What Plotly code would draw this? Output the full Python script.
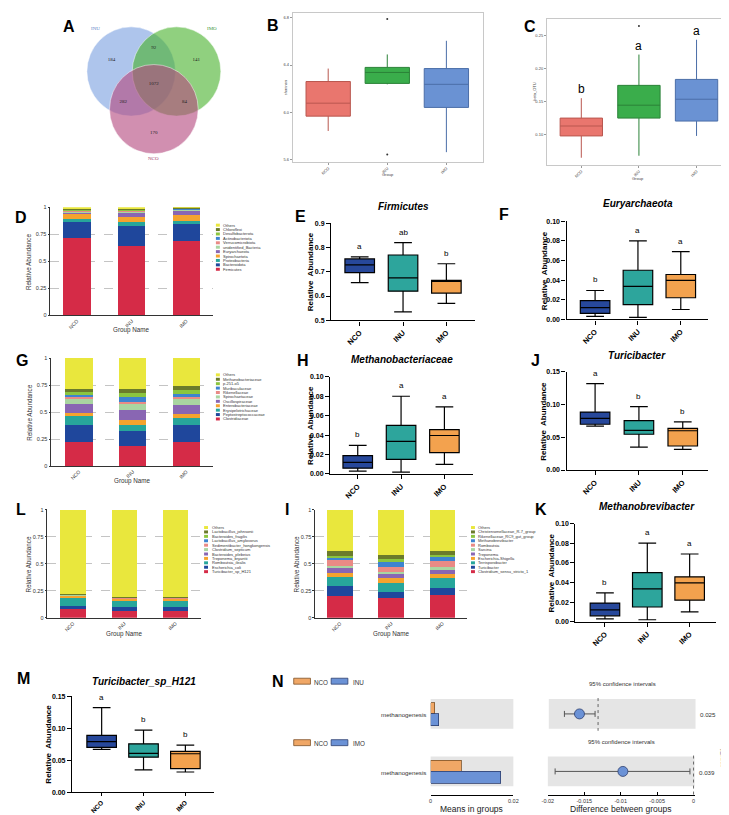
import plotly.graph_objects as go

W, H = 729, 815
FONT = 'Arial, "Liberation Sans", sans-serif'

groups = ['NCO', 'INU', 'IMO']

# ---------------- A: Venn ----------------
venn_sets = ['INU', 'IMO', 'NCO']
venn_regions = ['INU', 'INU&IMO', 'IMO', 'INU&NCO', 'INU&IMO&NCO', 'IMO&NCO', 'NCO']
venn_counts = [184, 92, 141, 282, 1072, 84, 170]

# ---------------- B: shannon ----------------
shannon_lo = [5.84, 6.236, 5.66]
shannon_q1 = [5.966, 6.244, 6.04]
shannon_med = [6.076, 6.337, 6.236]
shannon_q3 = [6.26, 6.38, 6.37]
shannon_hi = [6.37, 6.49, 6.606]
shannon_out_group = [1, 1]
shannon_out_val = [6.79, 5.64]
shannon_ticks = [5.6, 6.0, 6.4, 6.8]

# ---------------- C: beta ----------------
beta_lo = [0.0655, 0.0685, 0.0985]
beta_q1 = [0.0985, 0.1255, 0.121]
beta_med = [0.1135, 0.145, 0.154]
beta_q3 = [0.1255, 0.175, 0.184]
beta_hi = [0.1556, 0.2216, 0.244]
beta_out_group = [1]
beta_out_val = [0.265]
beta_letters = ['b', 'a', 'a']
beta_ticks = [0.10, 0.15, 0.20, 0.25]

# ---------------- D: phylum ----------------
phylum_names = ['Firmicutes', 'Bacteroidota', 'Proteobacteria', 'Spirochaetota', 'Euryarchaeota',
                'unidentified_Bacteria', 'Verrucomicrobiota', 'Actinobacteriota', 'Desulfobacterota',
                'Chloroflexi', 'Others']
phylum_NCO = [0.720, 0.140, 0.030, 0.050, 0.012, 0.010, 0.005, 0.005, 0.005, 0.003, 0.020]
phylum_INU = [0.645, 0.180, 0.040, 0.045, 0.035, 0.015, 0.005, 0.005, 0.010, 0.005, 0.015]
phylum_IMO = [0.685, 0.160, 0.030, 0.050, 0.040, 0.010, 0.005, 0.005, 0.005, 0.003, 0.007]

# ---------------- G: family ----------------
family_names = ['Clostridiaceae', 'Peptostreptococcaceae', 'Erysipelotrichaceae', 'Enterobacteriaceae',
                'Oscillospiraceae', 'Spirochaetaceae', 'Rikenellaceae', 'Muribaculaceae', 'p-251-o5',
                'Methanobacteriaceae', 'Others']
family_NCO = [0.222, 0.159, 0.079, 0.034, 0.076, 0.053, 0.017, 0.017, 0.028, 0.025, 0.290]
family_INU = [0.186, 0.137, 0.058, 0.049, 0.085, 0.056, 0.022, 0.047, 0.033, 0.037, 0.290]
family_IMO = [0.222, 0.159, 0.061, 0.040, 0.080, 0.055, 0.025, 0.022, 0.040, 0.036, 0.260]

# ---------------- L: species ----------------
species_names = ['Turicibacter_sp_H121', 'Escherichia_coli', 'Romboutsia_ilealis', 'Treponema_bryantii',
                 'Bacteroides_plebeius', 'Clostridium_septicum', 'Sedimentibacter_hongkongensis',
                 'Lactobacillus_amylovorus', 'Bacteroides_fragilis', 'Lactobacillus_johnsonii', 'Others']
species_NCO = [0.083, 0.022, 0.075, 0.030, 0.003, 0.002, 0.001, 0.001, 0.001, 0.001, 0.781]
species_INU = [0.058, 0.042, 0.055, 0.025, 0.003, 0.002, 0.002, 0.002, 0.002, 0.004, 0.805]
species_IMO = [0.065, 0.035, 0.055, 0.025, 0.003, 0.002, 0.002, 0.002, 0.002, 0.004, 0.805]

# ---------------- I: genus ----------------
genus_names = ['Clostridium_sensu_stricto_1', 'Turicibacter', 'Terrisporobacter', 'Escherichia-Shigella',
               'Treponema', 'Sarcina', 'Romboutsia', 'Methanobrevibacter', 'Rikenellaceae_RC9_gut_group',
               'Christensenellaceae_R-7_group', 'Others']
genus_NCO = [0.205, 0.085, 0.085, 0.040, 0.050, 0.015, 0.060, 0.012, 0.020, 0.045, 0.383]
genus_INU = [0.183, 0.055, 0.082, 0.046, 0.049, 0.010, 0.048, 0.039, 0.031, 0.036, 0.421]
genus_IMO = [0.207, 0.070, 0.089, 0.039, 0.046, 0.015, 0.055, 0.037, 0.021, 0.040, 0.381]

# ---------------- box panels (lo, q1, median, q3, hi) ----------------
firmicutes = [[0.655, 0.535, 0.570], [0.696, 0.620, 0.612], [0.728, 0.675, 0.660],
              [0.753, 0.769, 0.665], [0.761, 0.820, 0.733]]
firmicutes_letters = ['a', 'ab', 'b']
euryarchaeota = [[0.003, 0.002, 0.010], [0.006, 0.015, 0.022], [0.012, 0.0335, 0.0396],
                 [0.019, 0.050, 0.0457], [0.0294, 0.080, 0.069]]
euryarchaeota_letters = ['b', 'a', 'a']
methanobacteriaceae = [[0.003, 0.002, 0.010], [0.006, 0.015, 0.022], [0.012, 0.0335, 0.0396],
                       [0.019, 0.050, 0.0457], [0.0294, 0.080, 0.069]]
methanobacteriaceae_letters = ['b', 'a', 'a']
methanobrevibacter = [[0.003, 0.002, 0.010], [0.006, 0.015, 0.022], [0.012, 0.0335, 0.0396],
                      [0.019, 0.050, 0.0457], [0.0294, 0.080, 0.069]]
methanobrevibacter_letters = ['b', 'a', 'a']
turicibacter = [[0.067, 0.035, 0.0316], [0.070, 0.0547, 0.0367], [0.0789, 0.0606, 0.0600],
                [0.0886, 0.0755, 0.0637], [0.132, 0.097, 0.0735]]
turicibacter_letters = ['a', 'b', 'b']
turicibacter_h121 = [[0.067, 0.035, 0.0316], [0.070, 0.0547, 0.0367], [0.0789, 0.0606, 0.0600],
                     [0.0886, 0.0755, 0.0637], [0.132, 0.097, 0.0735]]
turicibacter_h121_letters = ['a', 'b', 'b']

# ---------------- N: STAMP ----------------
n_pathway = 'methanogenesis'
n_ctrl = 'NCO'
n_trt = ['INU', 'IMO']
means_ctrl = [0.00095, 0.0074]
means_trt = [0.0020, 0.0169]
diff_est = [-0.00105, -0.0097]
diff_lo = [-0.0019, -0.019]
diff_hi = [-0.00017, -0.0005]
p_values = ['0.025', '0.039']

# =====================================================================
def dx(a, b): return [a / W, b / W]
def dy(t, b): return [1 - b / H, 1 - t / H]
def px(x): return x / W
def py(y): return 1 - y / H
def axn(i): return ('xaxis' if i == 1 else f'xaxis{i}'), ('yaxis' if i == 1 else f'yaxis{i}')
def ref(i): return ('x' if i == 1 else f'x{i}'), ('y' if i == 1 else f'y{i}')

traces, annotations, shapes = [], [], []
layout = dict(width=W, height=H, margin=dict(l=0, r=0, t=0, b=0), paper_bgcolor='white',
              plot_bgcolor='white', showlegend=False, barmode='stack', boxmode='overlay',
              hovermode=False, font=dict(family=FONT, color='black'))


def text(x, y, s, size, color='black', weight='normal', style='normal', xanchor='center',
         yanchor='middle', angle=0, family=FONT):
    annotations.append(dict(x=px(x), y=py(y), xref='paper', yref='paper', text=s, showarrow=False,
                            xanchor=xanchor, yanchor=yanchor, textangle=angle,
                            font=dict(size=size, color=color, weight=weight, style=style, family=family)))


# ---------------- A ----------------
xa, ya = axn(1); xr, yr = ref(1)
layout[xa] = dict(domain=dx(0, 240), range=[0, 240], visible=False, anchor=yr)
layout[ya] = dict(domain=dy(0, 165), range=[165, 0], visible=False, anchor=xr)
venn_centers = [(119, 60), (165, 60), (142, 98)]
venn_r = 45
venn_fill = ['rgba(108,150,220,0.55)', 'rgba(70,176,42,0.6)', 'rgba(181,74,128,0.62)']
for (cx, cy), c in zip(venn_centers, venn_fill):
    shapes.append(dict(type='circle', xref=xr, yref=yr, x0=cx - venn_r, x1=cx + venn_r,
                       y0=cy - venn_r, y1=cy + venn_r, fillcolor=c,
                       line=dict(color='rgba(255,255,255,0.8)', width=0.6), layer='below'))
venn_text_pos = [(99, 48), (142, 36), (185, 48), (111, 91), (142, 72), (173, 91), (142, 122)]
traces.append(go.Scatter(x=[p[0] for p in venn_text_pos], y=[p[1] for p in venn_text_pos],
                         text=[str(c) for c in venn_counts], mode='text',
                         textfont=dict(size=5, family='"Liberation Serif", serif', color='#222'),
                         xaxis=xr, yaxis=yr))
venn_label_pos = [(83, 17), (201, 17), (142, 148)]
venn_label_col = ['#5b7fc7', '#3d9a3d', '#a0406e']
for s, (lx, ly), c in zip(venn_sets, venn_label_pos, venn_label_col):
    text(lx, ly, s, 5, color=c, family='"Liberation Serif", serif')
text(56, 15, 'A', 16, weight='bold')


# ---------------- B & C (ggplot style) ----------------
gg_fill = ['#e9766e', '#3aad4b', '#6a92d3']
gg_line = ['#b9574f', '#2b8238', '#4b6ea8']


def gg_panel(i, L, R, T, B, c0, c2, box_px, yrange, stats, ticks, tick_txt, outg, outv, ylab, ylab_x,
             letters=None):
    xa, ya = axn(i); xr, yr = ref(i)
    s = (c2 - c0) / 2
    layout[xa] = dict(domain=dx(L, R), range=[(L - c0) / s, 2 + (R - c2) / s], anchor=yr,
                      tickmode='array', tickvals=[0, 1, 2], ticktext=groups, tickangle=-45,
                      tickfont=dict(size=4, color='#444'), showline=True, mirror=True,
                      linecolor='#c8c8c8', linewidth=0.8, ticks='outside', ticklen=2,
                      tickcolor='#999', showgrid=False, zeroline=False)
    layout[ya] = dict(domain=dy(T, B), range=yrange, anchor=xr, tickmode='array', tickvals=ticks,
                      ticktext=tick_txt, tickfont=dict(size=4, color='#444'), showline=True,
                      mirror=True, linecolor='#c8c8c8', linewidth=0.8, ticks='outside', ticklen=2,
                      tickcolor='#999', showgrid=False, zeroline=False)
    lo, q1, med, q3, hi = stats
    for g in range(3):
        traces.append(go.Box(x=[g], lowerfence=[lo[g]], q1=[q1[g]], median=[med[g]], q3=[q3[g]],
                             upperfence=[hi[g]], width=box_px / s, whiskerwidth=0,
                             fillcolor=gg_fill[g], line=dict(color=gg_line[g], width=1),
                             boxpoints=False, xaxis=xr, yaxis=yr))
        if letters:
            annotations.append(dict(x=g, y=hi[g], xref=xr, yref=yr, text=letters[g],
                                    showarrow=False, yanchor='bottom', yshift=0,
                                    font=dict(size=12, color='black', family=FONT)))
    traces.append(go.Scatter(x=outg, y=outv, mode='markers', marker=dict(size=2, color='#333'),
                             xaxis=xr, yaxis=yr))
    text(ylab_x, (T + B) / 2, ylab, 4, color='#444', angle=-90)


gg_panel(2, 283, 476, 1, 151, 319, 439, 45, [5.579, 6.842],
         [shannon_lo, shannon_q1, shannon_med, shannon_q3, shannon_hi],
         shannon_ticks, ['%.1f' % v for v in shannon_ticks], shannon_out_group, shannon_out_val,
         'shannon', 276)
text(380, 164, 'Group', 4, color='#444')
text(263, 14, 'B', 16, weight='bold')

gg_panel(3, 541, 728, 7, 154, 576, 693, 43, [0.055, 0.2755],
         [beta_lo, beta_q1, beta_med, beta_q3, beta_hi],
         beta_ticks, ['%.2f' % v for v in beta_ticks], beta_out_group, beta_out_val,
         'beta_OTU', 529, letters=beta_letters)
text(634, 168, 'Group', 4, color='#444')
text(524, 15, 'C', 16, weight='bold')

# ---------------- stacked bar panels ----------------
stack_colors = ['#d52b47', '#1f479c', '#27a69b', '#f5a32e', '#8966b3', '#a9d5a1',
                '#e98a85', '#3d84d0', '#8bc53f', '#6b7b2b', '#e9e73d']


def stack_panel(i, L, R, T, B, c0, c2, bw, names, by_group, leg_x, leg_y0, letter, letter_xy,
                ylab_x, xlab_y):
    xa, ya = axn(i); xr, yr = ref(i)
    s = (c2 - c0) / 2
    layout[xa] = dict(domain=dx(L, R), range=[(L - c0) / s, 2 + (R - c2) / s], anchor=yr,
                      tickmode='array', tickvals=[0, 1, 2], ticktext=groups, tickangle=-45,
                      tickfont=dict(size=5, color='#333'), showline=True, linecolor='#333',
                      linewidth=0.8, ticks='', showgrid=False, zeroline=False)
    layout[ya] = dict(domain=dy(T, B), range=[0, 1], anchor=xr, tickmode='array',
                      tickvals=[0, 0.25, 0.5, 0.75, 1], ticktext=['0', '0.25', '0.5', '0.75', '1'],
                      tickfont=dict(size=5.5, color='#333'), showline=True, linecolor='#333',
                      linewidth=0.8, ticks='outside', ticklen=2, tickcolor='#333', showgrid=True,
                      gridcolor='#c4c4c4', griddash='dash', gridwidth=0.6, zeroline=False)
    for k, name in enumerate(names):
        traces.append(go.Bar(x=[0, 1, 2], y=[g[k] for g in by_group], width=bw / s,
                             marker=dict(color=stack_colors[k], line=dict(width=0)), name=name,
                             xaxis=xr, yaxis=yr))
    n = len(names)
    for m, k in enumerate(reversed(range(n))):
        yy = leg_y0 + m * 4.45
        shapes.append(dict(type='rect', xref='paper', yref='paper', x0=px(leg_x), x1=px(leg_x + 4),
                           y0=py(yy + 1.5), y1=py(yy - 1.5), fillcolor=stack_colors[k],
                           line=dict(width=0)))
        text(leg_x + 5.5, yy, names[k], 4, color='#333', xanchor='left')
    text(letter_xy[0], letter_xy[1], letter, 16, weight='bold')
    text(ylab_x, (T + B) / 2, 'Relative Abundance', 6.3, color='#333', angle=-90)
    text((L + R) / 2, xlab_y, 'Group Name', 6.3, color='#333')


stack_panel(4, 37, 202, 197, 306, 64, 175, 28, phylum_names, [phylum_NCO, phylum_INU, phylum_IMO],
            205, 215, 'D', (7, 207), 15, 321)
stack_panel(7, 38, 202, 349, 458, 66, 175, 28, family_names, [family_NCO, family_INU, family_IMO],
            205, 366, 'G', (8, 352), 15, 473)
stack_panel(10, 34, 190, 502, 611, 60, 164, 26, species_names,
            [species_NCO, species_INU, species_IMO], 193, 520, 'L', (7, 502), 15, 627)
stack_panel(11, 306, 460, 502, 611, 331, 435, 26, genus_names, [genus_NCO, genus_INU, genus_IMO],
            464, 520, 'I', (277, 502), 287, 627)

# ---------------- GraphPad box panels ----------------
gp_colors = ['#27489b', '#2da59c', '#f3a24e']


def gp_panel(i, L, R, T, B, c0, c2, yrange, yticks, yfmt, stats, letters, title, title_xy,
             letter, letter_xy, ylab_x, xfont=7.5, xticklen=4):
    xa, ya = axn(i); xr, yr = ref(i)
    s = (c2 - c0) / 2
    layout[xa] = dict(domain=dx(L, R), range=[(L - c0) / s, 2 + (R - c2) / s], anchor=yr,
                      tickmode='array', tickvals=[0, 1, 2], ticktext=groups, tickangle=-45,
                      tickfont=dict(size=xfont, weight='bold', color='black'), showline=True,
                      linecolor='black', linewidth=1.4, ticks='outside', ticklen=xticklen,
                      tickwidth=1.4, tickcolor='black', showgrid=False, zeroline=False)
    layout[ya] = dict(domain=dy(T, B), range=yrange, anchor=xr, tickmode='array', tickvals=yticks,
                      ticktext=[format(v, yfmt) for v in yticks],
                      tickfont=dict(size=7, weight='bold', color='black'),
                      showline=True, linecolor='black', linewidth=1.4, ticks='outside', ticklen=4,
                      tickwidth=1.4, tickcolor='black', showgrid=False, zeroline=False)
    lo, q1, med, q3, hi = stats
    for g in range(3):
        traces.append(go.Box(x=[g], lowerfence=[lo[g]], q1=[q1[g]], median=[med[g]], q3=[q3[g]],
                             upperfence=[hi[g]], width=30 / s, whiskerwidth=0.6,
                             fillcolor=gp_colors[g], line=dict(color='black', width=1.2),
                             boxpoints=False, xaxis=xr, yaxis=yr))
        annotations.append(dict(x=g, y=hi[g], xref=xr, yref=yr, text=letters[g], showarrow=False,
                                yanchor='bottom', yshift=4,
                                font=dict(size=8, color='black', family=FONT)))
    text(title_xy[0], title_xy[1], title, 10, weight='bold', style='italic')
    text(letter_xy[0], letter_xy[1], letter, 16, weight='bold')
    text(ylab_x, (T + B) / 2, 'Relative  Abundance', 8, weight='bold', angle=-90)


t10 = [0, 0.02, 0.04, 0.06, 0.08, 0.10]
t15 = [0, 0.05, 0.10, 0.15]
gp_panel(5, 322, 468, 213, 311, 351, 439, [0.5, 0.9], [0.5, 0.6, 0.7, 0.8, 0.9], '.1f',
         firmicutes, firmicutes_letters, 'Firmicutes', (395, 196), 'E', (291, 206), 301)
gp_panel(6, 561, 705, 211, 310, 590, 677, [0, 0.10], t10, '.2f',
         euryarchaeota, euryarchaeota_letters, 'Euryarchaeota', (634, 193), 'F', (497, 204), 538)
gp_panel(8, 321, 466, 368, 466, 349, 437, [0, 0.10], t10, '.2f',
         methanobacteriaceae, methanobacteriaceae_letters, 'Methanobacteriaceae', (394, 351),
         'H', (293, 352), 301)
gp_panel(9, 561, 705, 363, 462, 590, 679, [0, 0.15], t15, '.2f',
         turicibacter, turicibacter_letters, 'Turicibacter', (633, 346), 'J', (529, 352), 538)
gp_panel(12, 570, 713, 516, 615, 600, 686, [0, 0.10], t10, '.2f',
         methanobrevibacter, methanobrevibacter_letters, 'Methanobrevibacter', (643, 499),
         'K', (535, 502), 546)
gp_panel(13, 59, 203, 690, 787, 89, 174, [0, 0.15], t15, '.2f',
         turicibacter_h121, turicibacter_h121_letters, 'Turicibacter_sp_H121', (132, 675),
         'M', (10, 672), 35, xfont=6.5, xticklen=3)

# ---------------- N: STAMP extended error bar ----------------
n_orange, n_orange_l = '#f0a766', '#7d5228'
n_blue, n_blue_l = '#6b92d6', '#2d3f6e'
GRAY = '#e5e5e5'
panel_rows = [(693, 723), (751, 781)]
means_x = (423, 507)
diff_x = [(543, 692), (542, 691)]
diff_ranges = [[-0.00278, 0.0055], [-0.02, 0.000135]]

for r in range(2):
    T, B = panel_rows[r]
    # means
    i = 14 + r
    xa, ya = axn(i); xr, yr = ref(i)
    xcfg = dict(domain=dx(*means_x), range=[0, 0.02], showgrid=False, zeroline=False)
    if r == 0:
        xcfg.update(visible=False, anchor=yr)
    else:
        xcfg.update(anchor='free', position=py(790), showline=True, linecolor='black', linewidth=0.9,
                    ticks='inside', ticklen=3, tickcolor='black', tickmode='array',
                    tickvals=[0, 0.02], ticktext=['0', '0.02'], tickfont=dict(size=5.5, color='#333'))
    layout[xa] = xcfg
    layout[ya] = dict(domain=dy(T, B), range=[0, 1], visible=False, anchor=xr)
    shapes.append(dict(type='rect', xref='paper', yref='paper', x0=px(means_x[0]), x1=px(means_x[1]),
                       y0=py(B), y1=py(T), fillcolor=GRAY, line=dict(width=0), layer='below'))
    traces.append(go.Bar(x=[means_ctrl[r]], y=[0.69], orientation='h', width=0.38,
                         marker=dict(color=n_orange, line=dict(color=n_orange_l, width=0.8)),
                         xaxis=xr, yaxis=yr))
    traces.append(go.Bar(x=[means_trt[r]], y=[0.3], orientation='h', width=0.4,
                         marker=dict(color=n_blue, line=dict(color=n_blue_l, width=0.8)),
                         xaxis=xr, yaxis=yr))
    text(420, (T + B) / 2 + 1, n_pathway, 6.2, color='#333', xanchor='right')
    # diff
    i = 16 + r
    xa, ya = axn(i); xr, yr = ref(i)
    xcfg = dict(domain=dx(*diff_x[r]), range=diff_ranges[r], showgrid=False, zeroline=False)
    if r == 0:
        xcfg.update(visible=False, anchor=yr)
    else:
        xcfg.update(anchor='free', position=py(790), showline=True, linecolor='black', linewidth=0.9,
                    ticks='inside', ticklen=3, tickcolor='black', tickmode='array',
                    tickvals=[-0.02, -0.015, -0.01, -0.005, 0],
                    ticktext=['-0.02', '-0.015', '-0.01', '-0.005', '0'],
                    tickfont=dict(size=5.5, color='#333'))
    layout[xa] = xcfg
    layout[ya] = dict(domain=dy(T, B), range=[0, 1], visible=False, anchor=xr)
    shapes.append(dict(type='rect', xref='paper', yref='paper', x0=px(diff_x[r][0]),
                       x1=px(diff_x[r][1]), y0=py(B), y1=py(T), fillcolor=GRAY,
                       line=dict(width=0), layer='below'))
    shapes.append(dict(type='line', xref=xr, yref='paper', x0=0, x1=0,
                       y0=py(T - 1), y1=py(B + 2 if r == 0 else 790),
                       line=dict(color='#555', width=0.9, dash='dot')))
    traces.append(go.Scatter(x=[diff_est[r]], y=[0.5], mode='markers',
                             marker=dict(size=10, color=n_blue, line=dict(color=n_blue_l, width=0.8)),
                             error_x=dict(type='data', symmetric=False,
                                          array=[diff_hi[r] - diff_est[r]],
                                          arrayminus=[diff_est[r] - diff_lo[r]],
                                          color='#555', thickness=1, width=3),
                             xaxis=xr, yaxis=yr))
    text((diff_x[r][0] + diff_x[r][1]) / 2, T - 15, '95% confidence intervals', 6, color='#333')
    text(diff_x[r][1] + 2, (T + B) / 2 + 1, p_values[r], 6.2, color='#333', xanchor='left')
    # legend
    ly = 675 if r == 0 else 737
    shapes.append(dict(type='rect', xref='paper', yref='paper', x0=px(284), x1=px(301),
                       y0=py(ly + 3), y1=py(ly - 3), fillcolor=n_orange,
                       line=dict(color=n_orange_l, width=0.8)))
    text(303, ly + 1, n_ctrl, 6.3, color='#333', xanchor='left')
    shapes.append(dict(type='rect', xref='paper', yref='paper', x0=px(322), x1=px(339),
                       y0=py(ly + 3), y1=py(ly - 3), fillcolor=n_blue,
                       line=dict(color=n_blue_l, width=0.8)))
    text(342, ly + 1, n_trt[r], 6.3, color='#333', xanchor='left')

text(720, 752, 'p_value', 5.5, color='#333', angle=90)
text(465, 804, 'Means in groups', 8.5, color='#222')
text(616, 804, 'Difference between groups', 8.5, color='#222')
text(268, 675, 'N', 16, weight='bold')

layout['annotations'] = annotations
layout['shapes'] = shapes
fig = go.Figure(data=traces, layout=layout)
fig.write_html('out.html')
